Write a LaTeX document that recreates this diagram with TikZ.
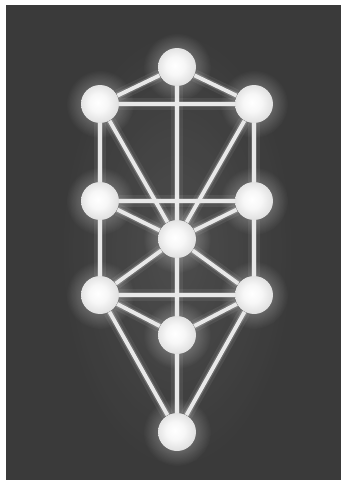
\documentclass[tikz,border=0pt]{standalone}
\usepackage{xcolor}
\usepackage{tikz}
\usetikzlibrary{fadings}
\definecolor{treebg}{RGB}{58,58,58}
\definecolor{pathwhite}{RGB}{232,232,232}
\definecolor{rimgray}{RGB}{125,125,125}
\pgfdeclareradialshading{sphereshade}{\pgfpoint{-3bp}{2bp}}{%
  color(0bp)=(white); color(12bp)=(white!97!black); color(24bp)=(white!89!black);
  color(38bp)=(white!74!black); color(50bp)=(rimgray)}
\tikzfading[name=glowfade, inner color=transparent!55, outer color=transparent!100]
\pgfdeclarelayer{halo}
\pgfsetlayers{halo,main}
\tikzset{
  sephira/.style={circle,minimum size=0.76cm,inner sep=0pt,shading=sphereshade},
  aura/.style={fill=white,path fading=glowfade},
  channel/.style={draw=pathwhite,line width=2.2pt,
    preaction={draw=white,line width=7pt,opacity=0.07},
    preaction={draw=white,line width=3.8pt,opacity=0.16}}
}

\begin{document}
\begin{tikzpicture}[x=0.02cm,y=-0.02cm]
  \useasboundingbox (0,0) rectangle (341,481);
  % frame and dark panel
  \begin{pgfonlayer}{halo}
    \fill[white] (0,0) rectangle (341,481);
    \fill[treebg] (6,5) rectangle (341,480);
    % soft light behind the whole tree
    \fill[aura,opacity=0.22] (177,250) ellipse (120 and 225);
  \end{pgfonlayer}

  % the ten spheres
  \foreach \n/\x/\y in {
      kether/177/67,
      chokmah/254/104,
      binah/100/104,
      chesed/254/201,
      geburah/100/201,
      tiphareth/177/239,
      netzach/254/295,
      hod/100/295,
      yesod/177/335,
      malkuth/177/432}{
    \node[sephira] (\n) at (\x,\y) {};
    \begin{pgfonlayer}{halo}
      \fill[aura] (\x,\y) circle (34);
    \end{pgfonlayer}
  }

  % the 22 paths
  \foreach \a/\b in {
      kether/chokmah, kether/binah, kether/tiphareth,
      chokmah/binah, chokmah/tiphareth, chokmah/chesed,
      binah/tiphareth, binah/geburah,
      chesed/geburah, chesed/tiphareth, chesed/netzach,
      geburah/tiphareth, geburah/hod,
      tiphareth/netzach, tiphareth/hod, tiphareth/yesod,
      netzach/hod, netzach/yesod, netzach/malkuth,
      hod/yesod, hod/malkuth,
      yesod/malkuth}{
    \draw[channel] (\a) -- (\b);
  }
\end{tikzpicture}
\end{document}
